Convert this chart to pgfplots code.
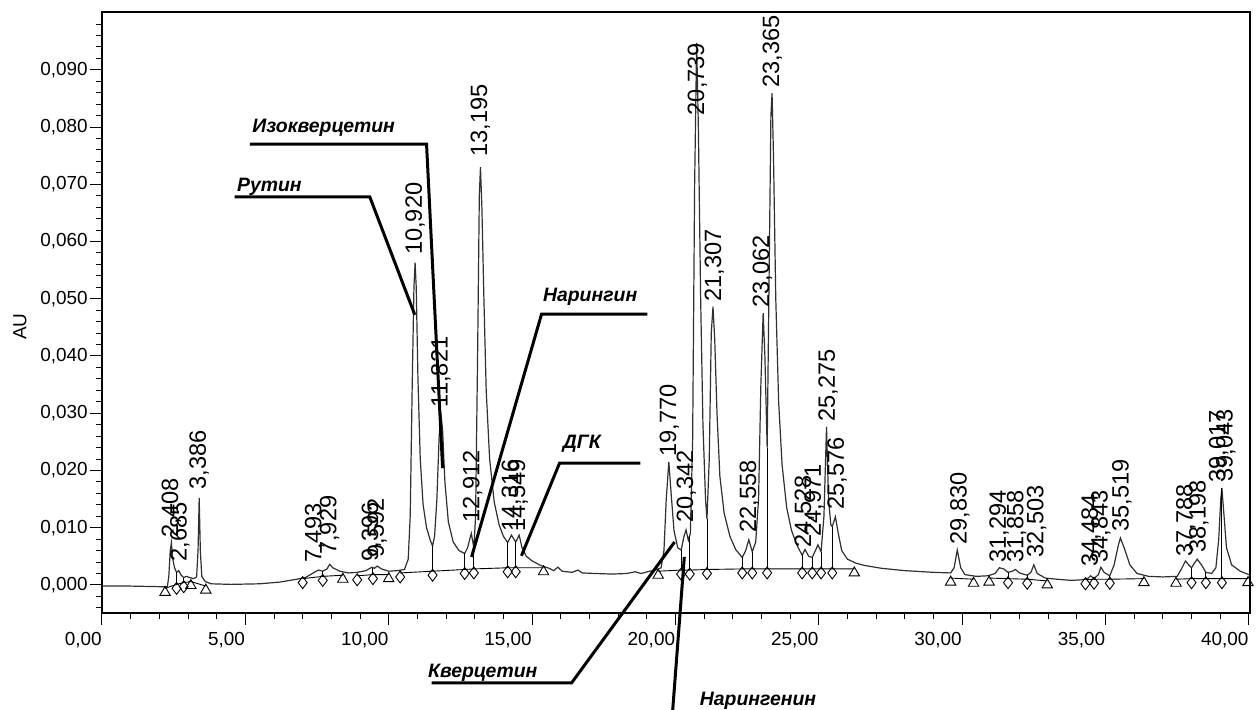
\documentclass[border=0pt]{standalone}
\usepackage{fontspec}
\setmainfont{Liberation Sans}
\usepackage{pgfplots}
\pgfplotsset{compat=1.18}
\definecolor{trace}{HTML}{303030}
\tikzset{
  peak/.style={rotate=90, anchor=west, inner sep=0pt, font=\fontsize{11.8}{12}\selectfont},
  ann/.style={anchor=base west, inner sep=0pt, font=\bfseries\itshape\fontsize{9.7}{11}\selectfont},
}
\begin{document}
\begin{tikzpicture}
\begin{axis}[
  scale only axis, width=574pt, height=300.5pt,
  xmin=0, xmax=40.04, ymin=-0.0049, ymax=0.1001,
  clip mode=individual,
  axis line style={black, line width=0.6pt},
  tick pos=left, tick align=outside,
  major tick length=6pt, minor tick length=3pt,
  every tick/.style={black, line width=0.5pt},
  xtick={0,5,10,15,20,25,30,35,40},
  minor xtick={1,2,3,4,6,7,8,9,11,12,13,14,16,17,18,19,21,22,23,24,26,27,28,29,31,32,33,34,36,37,38,39},
  ytick={0,0.01,0.02,0.03,0.04,0.05,0.06,0.07,0.08,0.09},
  minor ytick={-0.004,-0.002,0.002,0.004,0.006,0.008,0.012,0.014,0.016,0.018,0.022,0.024,0.026,0.028,0.032,0.034,0.036,0.038,0.042,0.044,0.046,0.048,0.052,0.054,0.056,0.058,0.062,0.064,0.066,0.068,0.072,0.074,0.076,0.078,0.082,0.084,0.086,0.088,0.092,0.094,0.096,0.098},
  scaled y ticks=false, scaled x ticks=false,
  tick label style={font=\fontsize{9.45}{11}\selectfont},
  xticklabel style={anchor=north east, inner xsep=0pt, /pgf/number format/fixed, /pgf/number format/fixed zerofill, /pgf/number format/precision=2, /pgf/number format/use comma, /pgf/number format/assume math mode=true},
  yticklabel style={inner xsep=1pt, /pgf/number format/fixed, /pgf/number format/fixed zerofill, /pgf/number format/precision=3, /pgf/number format/use comma, /pgf/number format/assume math mode=true},
]
% chromatogram trace
\addplot[trace, line width=0.6pt, mark=none] coordinates {
(0,-0.0002) (1.0,-0.0002) (2.0,-0.0003) (2.28,-0.0003) (2.33,0.0015) (2.38,0.0060) (2.42,0.0074) (2.47,0.0045) (2.53,0.0030) (2.6,0.0022) (2.68,0.0025) (2.76,0.0017) (2.85,0.0013) (2.95,0.0015) (3.05,0.0013) (3.2,0.0011) (3.3,0.0014) (3.35,0.0060) (3.39,0.0152) (3.43,0.0060) (3.48,0.0015) (3.6,0.0006) (3.8,0.0002) (4.5,0.0001) (5.5,0.0002) (6.2,0.0005) (6.8,0.0010) (7.1,0.0013) (7.4,0.0022) (7.55,0.0026) (7.7,0.0024) (7.85,0.0028) (7.94,0.0036) (8.05,0.0030) (8.3,0.0024) (8.6,0.0021) (8.9,0.0022) (9.2,0.0025) (9.42,0.0031) (9.5,0.0029) (9.6,0.0033) (9.75,0.0028) (10.0,0.0024) (10.3,0.0025) (10.55,0.0027) (10.68,0.0045) (10.75,0.012) (10.82,0.035) (10.88,0.052) (10.92,0.0563) (10.96,0.052) (11.02,0.036) (11.1,0.022) (11.2,0.014) (11.32,0.0100) (11.45,0.0078) (11.53,0.0068) (11.6,0.0085) (11.68,0.015) (11.76,0.026) (11.82,0.0300) (11.88,0.027) (11.96,0.018) (12.08,0.0110) (12.25,0.0075) (12.45,0.0060) (12.65,0.0055) (12.75,0.0065) (12.88,0.0090) (12.97,0.0065) (13.03,0.012) (13.1,0.040) (13.16,0.068) (13.2,0.0730) (13.25,0.066) (13.32,0.050) (13.4,0.034) (13.52,0.022) (13.68,0.0145) (13.85,0.0105) (14.0,0.0085) (14.15,0.0074) (14.28,0.0087) (14.43,0.0075) (14.55,0.0087) (14.65,0.0065) (14.8,0.0050) (15.0,0.0042) (15.3,0.0034) (15.6,0.0029) (15.75,0.0025) (15.9,0.0031) (16.05,0.0024) (16.4,0.0022) (16.6,0.0026) (16.75,0.0021) (17.2,0.0020) (17.8,0.0019) (18.3,0.0020) (18.6,0.0023) (18.8,0.0020) (19.1,0.0024) (19.3,0.0026) (19.5,0.0030) (19.6,0.0060) (19.68,0.0150) (19.77,0.0215) (19.85,0.0160) (19.95,0.0095) (20.08,0.0065) (20.2,0.0061) (20.3,0.0085) (20.37,0.0096) (20.45,0.0078) (20.52,0.0090) (20.6,0.025) (20.67,0.070) (20.74,0.0947) (20.8,0.080) (20.88,0.050) (20.96,0.028) (21.05,0.0150) (21.1,0.0115) (21.18,0.022) (21.25,0.044) (21.31,0.0486) (21.37,0.043) (21.45,0.030) (21.55,0.019) (21.7,0.0125) (21.9,0.0085) (22.1,0.0062) (22.33,0.0048) (22.45,0.0060) (22.56,0.0079) (22.68,0.0058) (22.8,0.0075) (22.9,0.015) (22.98,0.035) (23.06,0.0475) (23.12,0.040) (23.2,0.0240) (23.27,0.055) (23.33,0.082) (23.37,0.0859) (23.42,0.075) (23.5,0.050) (23.6,0.032) (23.72,0.021) (23.88,0.0135) (24.05,0.0095) (24.25,0.0068) (24.42,0.0052) (24.52,0.0062) (24.65,0.0050) (24.77,0.0048) (24.9,0.0062) (24.97,0.0070) (25.08,0.0058) (25.18,0.0120) (25.27,0.0276) (25.34,0.015) (25.42,0.0105) (25.47,0.0102) (25.58,0.0119) (25.68,0.0090) (25.8,0.0060) (26.0,0.0045) (26.3,0.0038) (26.6,0.0034) (27.2,0.0029) (28.0,0.0025) (29.0,0.0022) (29.6,0.0021) (29.72,0.0030) (29.83,0.0061) (29.95,0.0030) (30.1,0.0018) (30.5,0.0015) (30.9,0.0016) (31.15,0.0020) (31.3,0.0030) (31.45,0.0028) (31.6,0.0022) (31.75,0.0024) (31.86,0.0027) (32.0,0.0021) (32.27,0.0017) (32.4,0.0022) (32.5,0.0035) (32.62,0.0020) (32.9,0.0012) (33.3,0.0010) (33.8,0.0008) (34.2,0.0009) (34.4,0.0012) (34.48,0.0016) (34.6,0.0011) (34.75,0.0018) (34.84,0.0031) (34.95,0.0022) (35.15,0.0016) (35.3,0.0035) (35.45,0.0070) (35.52,0.0082) (35.65,0.0065) (35.85,0.0035) (36.1,0.0020) (36.5,0.0015) (37.0,0.0014) (37.5,0.0015) (37.65,0.0028) (37.79,0.0042) (37.9,0.0035) (38.0,0.0030) (38.1,0.0038) (38.2,0.0045) (38.35,0.0035) (38.5,0.0022) (38.7,0.0020) (38.85,0.0030) (38.95,0.0080) (39.02,0.0150) (39.06,0.0169) (39.12,0.0130) (39.22,0.0065) (39.4,0.0035) (39.7,0.0024) (40.0,0.0018) (40.1,0.0016)
};
% integration baselines
\addplot[black, line width=0.45pt, mark=none, unbounded coords=jump] coordinates {
(2.2,-0.0006) (2.6,0.0001) (2.85,0.0004) (3.1,0.0006) (3.62,-0.0002) (3.62,nan)
(7.0,0.0011) (7.7,0.0015) (8.4,0.0017) (8.4,nan)
(8.9,0.0016) (9.45,0.0018) (10.0,0.0018) (10.0,nan)
(10.4,0.0021) (11.53,0.0024) (12.65,0.0027) (12.97,0.0028) (14.15,0.0030) (14.43,0.0030) (15.4,0.0030) (15.4,nan)
(19.4,0.0024) (20.2,0.0026) (20.5,0.0026) (21.1,0.0027) (22.33,0.0028) (22.68,0.0028) (23.2,0.0028) (24.42,0.0028) (24.77,0.0028) (25.08,0.0028) (25.47,0.0028) (26.24,0.0028) (26.24,nan)
(29.6,0.0012) (30.4,0.0010) (30.4,nan)
(30.94,0.0012) (31.6,0.0011) (32.27,0.0010) (32.97,0.0007) (32.97,nan)
(34.3,0.0009) (34.6,0.0010) (35.15,0.0010) (36.34,0.0011) (36.34,nan)
(37.46,0.0010) (38.0,0.0011) (38.5,0.0011) (39.06,0.0011) (39.97,0.0011)
};
% drop lines
\addplot[black, line width=0.45pt, mark=none, unbounded coords=jump] coordinates {
(2.6,0.0001) (2.6,0.0022) (2.6,nan)
(2.85,0.0004) (2.85,0.0013) (2.85,nan)
(7.7,0.0015) (7.7,0.0024) (7.7,nan)
(9.45,0.0018) (9.45,0.0030) (9.45,nan)
(11.53,0.0024) (11.53,0.0068) (11.53,nan)
(12.65,0.0027) (12.65,0.0055) (12.65,nan)
(12.97,0.0028) (12.97,0.0065) (12.97,nan)
(14.15,0.0030) (14.15,0.0074) (14.15,nan)
(14.43,0.0030) (14.43,0.0075) (14.43,nan)
(20.2,0.0026) (20.2,0.0061) (20.2,nan)
(20.5,0.0026) (20.5,0.0085) (20.5,nan)
(21.1,0.0027) (21.1,0.0115) (21.1,nan)
(22.33,0.0028) (22.33,0.0048) (22.33,nan)
(22.68,0.0028) (22.68,0.0058) (22.68,nan)
(23.2,0.0028) (23.2,0.0240) (23.2,nan)
(24.42,0.0028) (24.42,0.0052) (24.42,nan)
(24.77,0.0028) (24.77,0.0048) (24.77,nan)
(25.08,0.0028) (25.08,0.0058) (25.08,nan)
(25.47,0.0028) (25.47,0.0102) (25.47,nan)
(31.6,0.0011) (31.6,0.0022) (31.6,nan)
(32.27,0.0010) (32.27,0.0017) (32.27,nan)
(34.6,0.0010) (34.6,0.0011) (34.6,nan)
(35.15,0.0010) (35.15,0.0016) (35.15,nan)
(38.0,0.0011) (38.0,0.0030) (38.0,nan)
(38.5,0.0011) (38.5,0.0022) (38.5,nan)
(39.06,0.0011) (39.06,0.0169)
};
% triangle markers
\addplot[only marks, mark=triangle, mark size=3pt, mark options={black, line width=0.45pt, fill=white, yshift=-2pt}] coordinates {
(2.2,-0.0006) (3.1,0.0006) (3.62,-0.0002) (8.4,0.0017) (10.0,0.0018) (15.4,0.0030) (19.4,0.0024) (26.24,0.0028) (29.6,0.0012) (30.4,0.0010) (30.94,0.0012) (32.97,0.0007) (36.34,0.0011) (37.46,0.0010) (39.97,0.0011)
};
% diamond markers
\addplot[only marks, mark=diamond, mark size=3pt, mark options={black, line width=0.45pt, fill=white, yshift=-2pt}] coordinates {
(2.6,0.0001) (2.85,0.0004) (7.0,0.0011) (7.7,0.0015) (8.9,0.0016) (9.45,0.0018) (10.4,0.0021) (11.53,0.0024) (12.65,0.0027) (12.97,0.0028) (14.15,0.0030) (14.43,0.0030) (20.2,0.0026) (20.5,0.0026) (21.1,0.0027) (22.33,0.0028) (22.68,0.0028) (23.2,0.0028) (24.42,0.0028) (24.77,0.0028) (25.08,0.0028) (25.47,0.0028) (31.6,0.0011) (32.27,0.0010) (34.3,0.0009) (34.6,0.0010) (35.15,0.0010) (38.0,0.0011) (38.5,0.0011) (39.06,0.0011)
};
% peak labels
\node[peak] at (axis cs:2.42,0.0082) {2,408};
\node[peak] at (axis cs:2.72,0.0040) {2,685};
\node[peak] at (axis cs:3.39,0.0166) {3,386};
\node[peak] at (axis cs:7.42,0.0038) {7,493};
\node[peak] at (axis cs:7.94,0.0052) {7,929};
\node[peak] at (axis cs:9.40,0.0040) {9,396};
\node[peak] at (axis cs:9.60,0.0047) {9,592};
\node[peak] at (axis cs:10.92,0.0576) {10,920};
\node[peak] at (axis cs:11.82,0.0310) {11,821};
\node[peak] at (axis cs:12.93,0.0108) {12,912};
\node[peak] at (axis cs:13.20,0.0748) {13,195};
\node[peak] at (axis cs:14.28,0.0093) {14,316};
\node[peak] at (axis cs:14.52,0.0093) {14,549};
\node[peak] at (axis cs:19.79,0.0224) {19,770};
\node[peak] at (axis cs:20.38,0.0108) {20,342};
\node[peak] at (axis cs:20.77,0.0820) {20,739};
\node[peak] at (axis cs:21.36,0.0494) {21,307};
\node[peak] at (axis cs:22.58,0.0091) {22,558};
\node[peak] at (axis cs:23.03,0.0484) {23,062};
\node[peak] at (axis cs:23.38,0.0868) {23,365};
\node[peak] at (axis cs:24.50,0.0065) {24,528};
\node[peak] at (axis cs:24.84,0.0084) {24,971};
\node[peak] at (axis cs:25.33,0.0285) {25,275};
\node[peak] at (axis cs:25.64,0.0131) {25,576};
\node[peak] at (axis cs:29.92,0.0070) {29,830};
\node[peak] at (axis cs:31.29,0.0038) {31,294};
\node[peak] at (axis cs:31.90,0.0038) {31,858};
\node[peak] at (axis cs:32.60,0.0047) {32,503};
\node[peak] at (axis cs:34.50,0.0031) {34,484};
\node[peak] at (axis cs:34.84,0.0038) {34,843};
\node[peak] at (axis cs:35.57,0.0093) {35,519};
\node[peak] at (axis cs:37.80,0.0049) {37,788};
\node[peak] at (axis cs:38.26,0.0056) {38,198};
\node[peak] at (axis cs:38.95,0.0178) {39,017};
\node[peak] at (axis cs:39.20,0.0180) {39,043};
% annotations
\draw[black, line width=1.5pt] (axis cs:5.16,0.0770) -- (axis cs:11.32,0.0770) -- (axis cs:11.88,0.0204);
\node[ann] at (axis cs:5.23,0.0790) {Изокверцетин};
\draw[black, line width=1.5pt] (axis cs:4.63,0.0678) -- (axis cs:9.34,0.0678) -- (axis cs:10.91,0.0472);
\node[ann] at (axis cs:4.70,0.0688) {Рутин};
\draw[black, line width=1.5pt] (axis cs:19.02,0.0473) -- (axis cs:15.33,0.0473) -- (axis cs:12.89,0.0049);
\node[ann] at (axis cs:15.37,0.0496) {Нарингин};
\draw[black, line width=1.5pt] (axis cs:18.78,0.0213) -- (axis cs:15.96,0.0213) -- (axis cs:14.63,0.0051);
\node[ann] at (axis cs:16.06,0.0238) {ДГК};
\draw[black, line width=1.5pt] (axis cs:11.50,-0.0171) -- (axis cs:16.38,-0.0171) -- (axis cs:19.97,0.0075);
\node[ann] at (axis cs:11.36,-0.0161) {Кверцетин};
\draw[black, line width=1.5pt] (axis cs:19.90,-0.0222) -- (axis cs:20.31,0.0049);
\node[ann] at (axis cs:20.84,-0.0210) {Нарингенин};
\node[rotate=90, inner sep=0pt, font=\fontsize{9.5}{11}\selectfont] at (axis cs:-2.86,0.0451) {AU};
\coordinate (bbSW) at (rel axis cs:0,0);
\coordinate (bbNE) at (rel axis cs:1,1);
\end{axis}
\pgfresetboundingbox
\path ([shift={(-51pt,-48.5pt)}]bbSW) rectangle ([shift={(5pt,6pt)}]bbNE);
\end{tikzpicture}
\end{document}
